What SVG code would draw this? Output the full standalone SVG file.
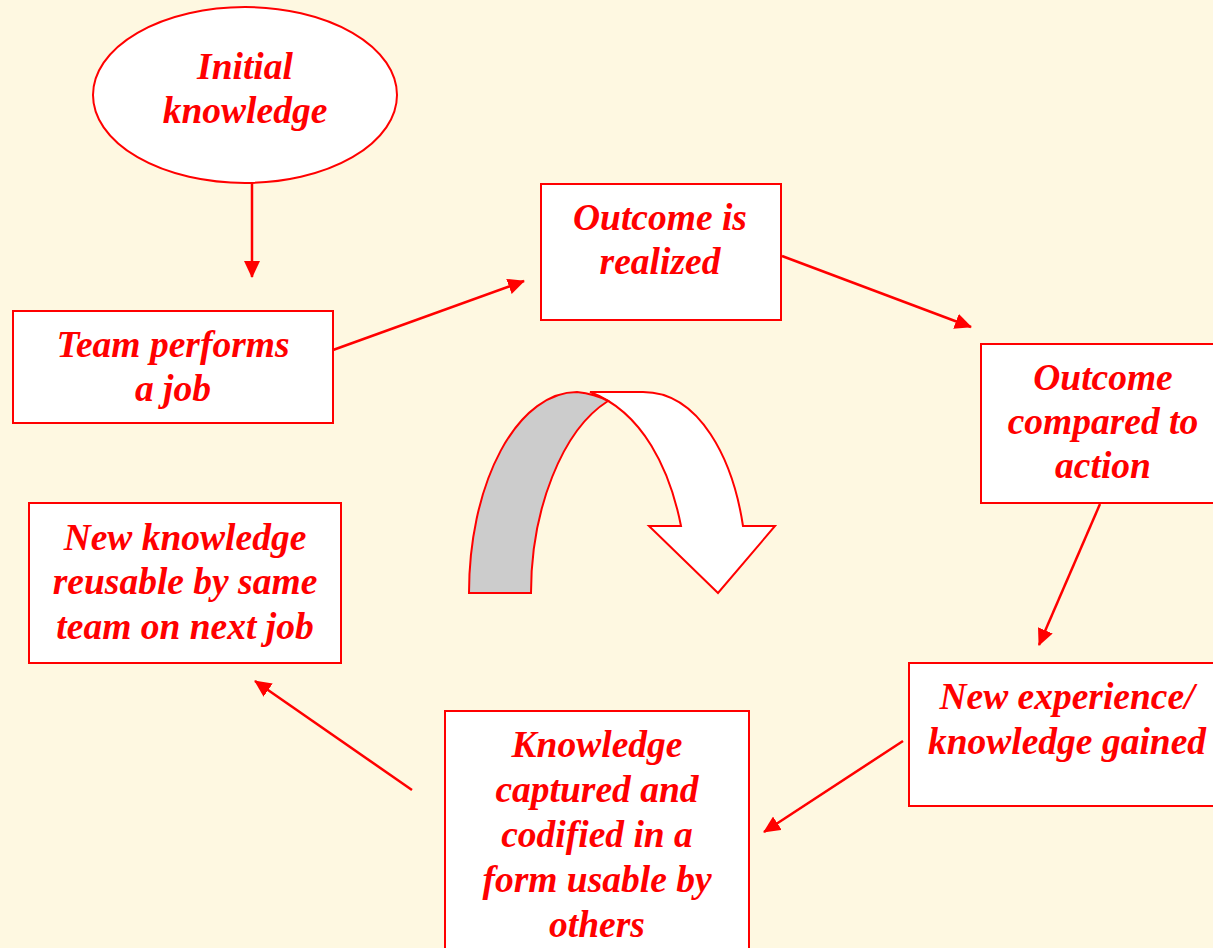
<svg xmlns="http://www.w3.org/2000/svg" width="1213" height="948" viewBox="0 0 1213 948">
<style>
.box{fill:#FFFFFF;stroke:#FF0000;stroke-width:2}
.t{font-family:"Liberation Serif","Times New Roman",serif;font-weight:bold;font-style:italic;font-size:37.5px;fill:#FF0000;text-anchor:middle}
.c{stroke:#FF0000;stroke-width:2.5;fill:none;marker-end:url(#ah)}
</style>
<defs>
<marker id="ah" markerUnits="userSpaceOnUse" markerWidth="18" markerHeight="16" refX="16" refY="8" orient="auto">
<path d="M0,0 L17,8 L0,16 Z" fill="#FF0000"/>
</marker>
</defs>
<rect width="1213" height="948" fill="#FEF8E1"/>
<g id="connectors">
<line class="c" x1="252" y1="183" x2="252" y2="277"/>
<line class="c" x1="333" y1="350" x2="524" y2="281"/>
<line class="c" x1="782" y1="256" x2="971" y2="327"/>
<line class="c" x1="1100" y1="504" x2="1039" y2="645"/>
<line class="c" x1="903" y1="741" x2="764" y2="832"/>
<line class="c" x1="412" y1="790" x2="255" y2="681"/>
</g>
<g id="curved-arrow">
<path d="M590,392 L643,392 C700,392 733,460 743,526 L775,526 L718,593 L649,526 L681,526 C670,470 643,412 590,392 Z" fill="#FFFFFF" stroke="#FF0000" stroke-width="2"/>
<path d="M469,593 A108,201 0 0 1 577,392 Q595,394 608,401 C562,430 531,510 531,593 Z" fill="#CCCCCC" stroke="#FF0000" stroke-width="2"/>
</g>
<g id="initial">
<ellipse class="box" cx="245" cy="95" rx="152" ry="88"/>
<text class="t" x="245" y="79">Initial</text>
<text class="t" x="245" y="123">knowledge</text>
</g>
<g id="team">
<rect class="box" x="13" y="311" width="320" height="112"/>
<text class="t" x="173" y="357">Team performs</text>
<text class="t" x="173" y="401">a job</text>
</g>
<g id="realized">
<rect class="box" x="541" y="184" width="240" height="136"/>
<text class="t" x="660" y="230">Outcome is</text>
<text class="t" x="660" y="274">realized</text>
</g>
<g id="compared">
<rect class="box" x="981" y="344" width="240" height="159"/>
<text class="t" x="1103" y="390">Outcome</text>
<text class="t" x="1103" y="434">compared to</text>
<text class="t" x="1103" y="478">action</text>
</g>
<g id="experience">
<rect class="box" x="909" y="663" width="312" height="143"/>
<text class="t" x="1067" y="709">New experience/</text>
<text class="t" x="1067" y="754">knowledge gained</text>
</g>
<g id="captured">
<rect class="box" x="445" y="711" width="304" height="250"/>
<text class="t" x="597" y="757">Knowledge</text>
<text class="t" x="597" y="802">captured and</text>
<text class="t" x="597" y="847">codified in a</text>
<text class="t" x="597" y="892">form usable by</text>
<text class="t" x="597" y="937">others</text>
</g>
<g id="newknowledge">
<rect class="box" x="29" y="503" width="312" height="160"/>
<text class="t" x="185" y="550">New knowledge</text>
<text class="t" x="185" y="594">reusable by same</text>
<text class="t" x="185" y="639">team on next job</text>
</g>
</svg>
